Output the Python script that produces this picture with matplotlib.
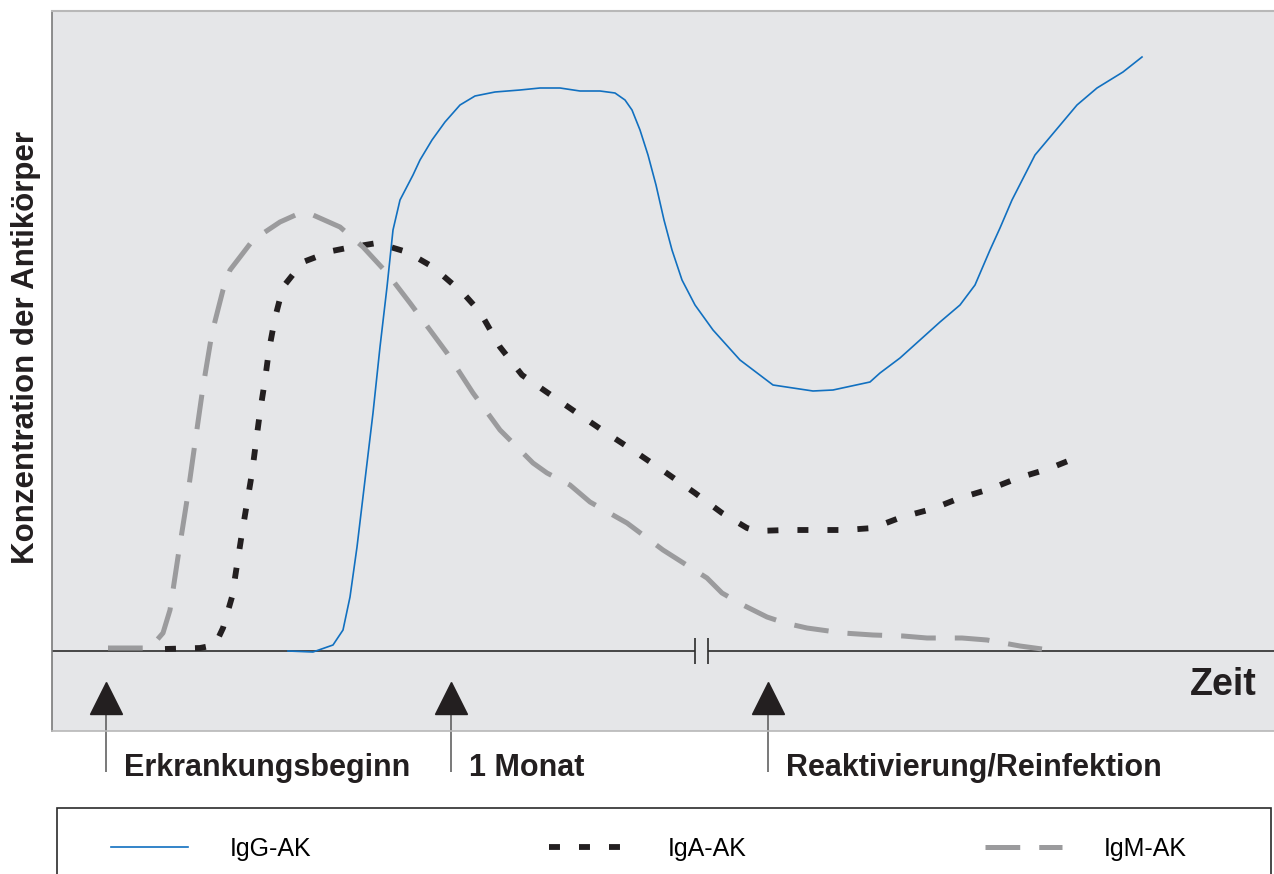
import matplotlib
matplotlib.use("Agg")
import matplotlib.pyplot as plt
from matplotlib.patches import Rectangle

plt.rcParams['font.family'] = ['Liberation Sans', 'DejaVu Sans']
plt.rcParams['lines.scale_dashes'] = False

# time axis (arbitrary units), concentration (arbitrary units)
igg_t = [236, 261, 281, 291, 298, 305, 313, 321, 328, 335, 341, 348, 361, 368, 380, 393,
         408, 423, 443, 468, 488, 508, 528, 548, 563, 573, 580, 588, 596, 604, 612, 620,
         630, 643, 661, 688, 721, 761, 781, 818, 828, 848, 868, 888, 908, 923, 938, 948,
         960, 983, 1025, 1045, 1071, 1090]
igg_c = [0, -1, 6, 21, 54, 104, 171, 238, 304, 364, 421, 451, 476, 491, 511, 529,
         546, 555, 559, 561, 563, 563, 560, 560, 558, 551, 541, 521, 496, 466, 431, 401,
         371, 346, 321, 291, 266, 260, 261, 269, 278, 293, 311, 329, 346, 366, 401, 423,
         451, 496, 546, 563, 579, 594]

iga_t = [113, 148, 163, 171, 180, 185, 190, 195, 200, 204, 208, 213, 217, 223, 231, 251,
         280, 295, 325, 355, 381, 411, 428, 448, 470, 496, 525, 553, 585, 613, 643, 670,
         695, 705, 735, 763, 793, 821, 850, 880, 908, 938, 966, 996, 1031]
iga_c = [2, 3, 6, 23, 54, 86, 118, 148, 178, 209, 239, 271, 301, 333, 364, 389,
         400, 403, 408, 399, 384, 358, 339, 304, 276, 258, 238, 219, 198, 179, 158, 138,
         123, 120, 121, 121, 121, 123, 134, 142, 153, 162, 173, 182, 196]

igm_t = [56, 98, 111, 118, 126, 135, 143, 151, 160, 171, 178, 188, 201, 228, 248, 261,
         288, 311, 335, 358, 395, 421, 448, 465, 481, 495, 518, 538, 575, 611, 655, 670,
         691, 715, 733, 755, 791, 821, 851, 875, 910, 935, 968, 990]
igm_c = [3, 3, 18, 41, 94, 151, 208, 264, 318, 361, 381, 394, 411, 429, 438, 436,
         424, 404, 378, 348, 298, 258, 221, 204, 188, 178, 166, 149, 128, 101, 73, 58,
         46, 34, 28, 23, 18, 16, 15, 13, 13, 11, 5, 2]

event_t = [54, 399, 716]
event_labels = ["Erkrankungsbeginn", "1 Monat", "Reaktivierung/Reinfektion"]
axis_break = [643, 656]

fig = plt.figure(figsize=(12.74, 8.74), dpi=100)
ax = fig.add_axes([52/1274, 143/874, 1222/1274, 720/874])
ax.set_facecolor('#e5e6e8')
ax.set_xlim(0, 1222)
ax.set_ylim(-80, 640)
ax.set_xticks([])
ax.set_yticks([])
ax.spines['right'].set_visible(False)
ax.spines['left'].set_color('#7a7a7a')
ax.spines['left'].set_linewidth(1.2)
ax.spines['top'].set_color('#b8b8b8')
ax.spines['top'].set_linewidth(1.5)
ax.spines['bottom'].set_color('#b8b8b8')
ax.spines['bottom'].set_linewidth(1.2)

# time axis with break
ax.hlines([0, 0], [0, axis_break[1]], [axis_break[0], 1222], color='#2b2b2b', lw=1.2, zorder=2)
ax.vlines(axis_break, -13, 13, color='#2b2b2b', lw=1.2, zorder=2)

l_igg, = ax.plot(igg_t, igg_c, color='#1170c0', lw=1.2, label='IgG-AK', zorder=4)
l_iga, = ax.plot(iga_t, iga_c, color='#231f20', lw=4.2, dashes=(7.9, 13.7),
                 label='IgA-AK', zorder=3)
l_igm, = ax.plot(igm_t, igm_c, color='#9b9b9d', lw=3.6, dashes=(25, 13.7),
                 label='IgM-AK', zorder=3)

# event arrows
ax.plot(event_t, [-47]*3, ls='none', marker='^', ms=23, color='#231f20',
        clip_on=False, zorder=5)
ax.vlines(event_t, -121, -64, color='#555555', lw=1.1, clip_on=False)
for t, lab in zip(event_t, event_labels):
    ax.text(t + 18, -125, lab, fontsize=22, fontweight='bold', color='#231f20',
            ha='left', va='baseline', clip_on=False)

ax.text(1205, -44, "Zeit", fontsize=27, fontweight='bold', color='#231f20',
        ha='right', va='baseline')

fig.text(26/1274, 1 - 348/874, "Konzentration der Antikörper", rotation=90,
         fontsize=22.5, fontweight='bold', color='#231f20', ha='center', va='center')

# legend box
fig.patches.append(Rectangle((57/1274, -0.05), (1271 - 57)/1274, 66/874 + 0.05,
                             transform=fig.transFigure, fill=False,
                             edgecolor='#2b2b2b', lw=1.2))
fig.legend(handles=[l_igg, l_iga, l_igm], loc='center left',
           bbox_to_anchor=(111/1274, 1 - 849/874), ncol=3, frameon=False,
           fontsize=18, handlelength=3.08, handletextpad=1.68, columnspacing=9.5,
           borderpad=0, borderaxespad=0)

fig.savefig('out.png', dpi=100)
